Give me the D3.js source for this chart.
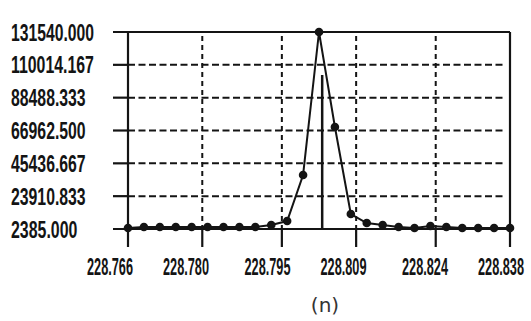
<!DOCTYPE html>
<html>
<head>
<meta charset="utf-8">
<script src="https://cdn.jsdelivr.net/npm/d3@7"></script>
<style>
  body { margin: 0; background: #fff; }
  svg { display: block; }
</style>
</head>
<body>
<script>
// data
var xValues = [228.766, 228.769, 228.772, 228.775, 228.778, 228.781, 228.784, 228.787, 228.790,
    228.793, 228.796, 228.799, 228.802, 228.805, 228.808, 228.811, 228.814, 228.817, 228.820,
    228.823, 228.826, 228.829, 228.832, 228.835, 228.838];
var yValues = [3000, 3700, 3700, 3700, 3700, 3700, 3700, 3700, 3700,
    5000, 7600, 37800, 131540, 69250, 12200, 6300, 5000, 3700, 3000,
    4400, 3700, 3000, 3000, 3000, 3000];
var xTicks = ['228.766', '228.780', '228.795', '228.809', '228.824', '228.838'];
var yTicks = ['2385.000', '23910.833', '45436.667', '66962.500', '88488.333', '110014.167', '131540.000'];
var markerX = 228.8026, markerTop = 103350;
var caption = '(n)';

var width = 531, height = 321;
var margin = { top: 32, right: 21, bottom: 92, left: 128 };

var svg = d3.select('body').append('svg')
    .attr('width', width)
    .attr('height', height);

var x = d3.scaleLinear()
    .domain([+xTicks[0], +xTicks[xTicks.length - 1]])
    .range([margin.left, width - margin.right]);
var y = d3.scaleLinear()
    .domain([+yTicks[0], +yTicks[yTicks.length - 1]])
    .range([height - margin.bottom, margin.top]);

var x0 = x.range()[0], x1 = x.range()[1];
var y0 = y.range()[0], y1 = y.range()[1];
var ink = '#141414';
var font = "'Liberation Sans', Arial, sans-serif";

// squeeze a label horizontally to a given width (old narrow bitmap font look)
function squeeze(sel, w, px, py) {
    sel.each(function(d, i) {
        var len = this.getComputedTextLength();
        var tw = typeof w === 'function' ? w(d, i) : w;
        var tx = typeof px === 'function' ? px(d, i) : px;
        var ty = typeof py === 'function' ? py(d, i) : py;
        d3.select(this).attr('transform',
            'translate(' + tx + ',' + ty + ') scale(' + (tw / len) + ',1)');
    });
}

// dashed grid
svg.append('g').selectAll('line')
    .data(yTicks.slice(1, -1))
    .enter().append('line')
    .attr('x1', x0).attr('x2', x1 - 6)
    .attr('y1', function(d) { return y(+d); })
    .attr('y2', function(d) { return y(+d); })
    .attr('stroke', ink).attr('stroke-width', 2)
    .attr('stroke-dasharray', '7,3.5');

svg.append('g').selectAll('line')
    .data(xTicks.slice(1, -1))
    .enter().append('line')
    .attr('x1', function(d) { return x(+d); })
    .attr('x2', function(d) { return x(+d); })
    .attr('y1', y1 + 4).attr('y2', y0)
    .attr('stroke', ink).attr('stroke-width', 2)
    .attr('stroke-dasharray', '5,4');

// frame: left, bottom, top, right
var frame = svg.append('g').attr('stroke', ink).attr('stroke-width', 2.2);
frame.append('line').attr('x1', x0).attr('x2', x0).attr('y1', y1).attr('y2', y0 + 18);
frame.append('line').attr('x1', x0 - 15).attr('x2', x1).attr('y1', y0).attr('y2', y0);
frame.append('line').attr('x1', x0 - 15).attr('x2', x1).attr('y1', y1).attr('y2', y1);
frame.append('line').attr('x1', x1).attr('x2', x1).attr('y1', y1).attr('y2', y0 + 18);

// tick marks
frame.selectAll('.yt')
    .data(yTicks.slice(1, -1))
    .enter().append('line')
    .attr('x1', x0 - 15).attr('x2', x0)
    .attr('y1', function(d) { return y(+d); })
    .attr('y2', function(d) { return y(+d); });
frame.selectAll('.xt')
    .data(xTicks.slice(1, -1))
    .enter().append('line')
    .attr('x1', function(d) { return x(+d); })
    .attr('x2', function(d) { return x(+d); })
    .attr('y1', y0).attr('y2', y0 + 18);

// y labels, left aligned
svg.append('g').selectAll('text')
    .data(yTicks)
    .enter().append('text')
    .attr('font-family', font)
    .attr('font-weight', 'bold')
    .attr('font-size', 23)
    .attr('fill', ink)
    .text(function(d) { return d; })
    .call(squeeze, function(d) { return d.length * 8.3; }, 11,
        function(d) { return y(+d) + 8.5; });

// x labels sit a bit left of their ticks
var xl = d3.scaleLinear().domain(x.domain()).range([x0 - 18, x1 - 9]);
svg.append('g').selectAll('text')
    .data(xTicks)
    .enter().append('text')
    .attr('text-anchor', 'middle')
    .attr('font-family', font)
    .attr('font-weight', 'bold')
    .attr('font-size', 23)
    .attr('fill', ink)
    .text(function(d) { return d; })
    .call(squeeze, 46, function(d) { return xl(+d); }, y0 + 46);

// peak marker
svg.append('line')
    .attr('x1', x(markerX)).attr('x2', x(markerX))
    .attr('y1', y(markerTop)).attr('y2', y0)
    .attr('stroke', ink).attr('stroke-width', 2.5);

// series
var pts = xValues.map(function(v, i) { return [v, yValues[i]]; });
var line = d3.line()
    .x(function(d) { return x(d[0]); })
    .y(function(d) { return y(d[1]); });
svg.append('path')
    .attr('d', line(pts))
    .attr('fill', 'none')
    .attr('stroke', ink)
    .attr('stroke-width', 2);
svg.append('g').selectAll('circle')
    .data(pts)
    .enter().append('circle')
    .attr('cx', function(d) { return x(d[0]); })
    .attr('cy', function(d) { return y(d[1]); })
    .attr('r', 4.3)
    .attr('fill', ink);

svg.append('text')
    .attr('x', 325).attr('y', 312)
    .attr('text-anchor', 'middle')
    .attr('font-family', "'DejaVu Sans', sans-serif")
    .attr('font-size', 20)
    .attr('fill', '#333')
    .text(caption);
</script>
</body>
</html>
